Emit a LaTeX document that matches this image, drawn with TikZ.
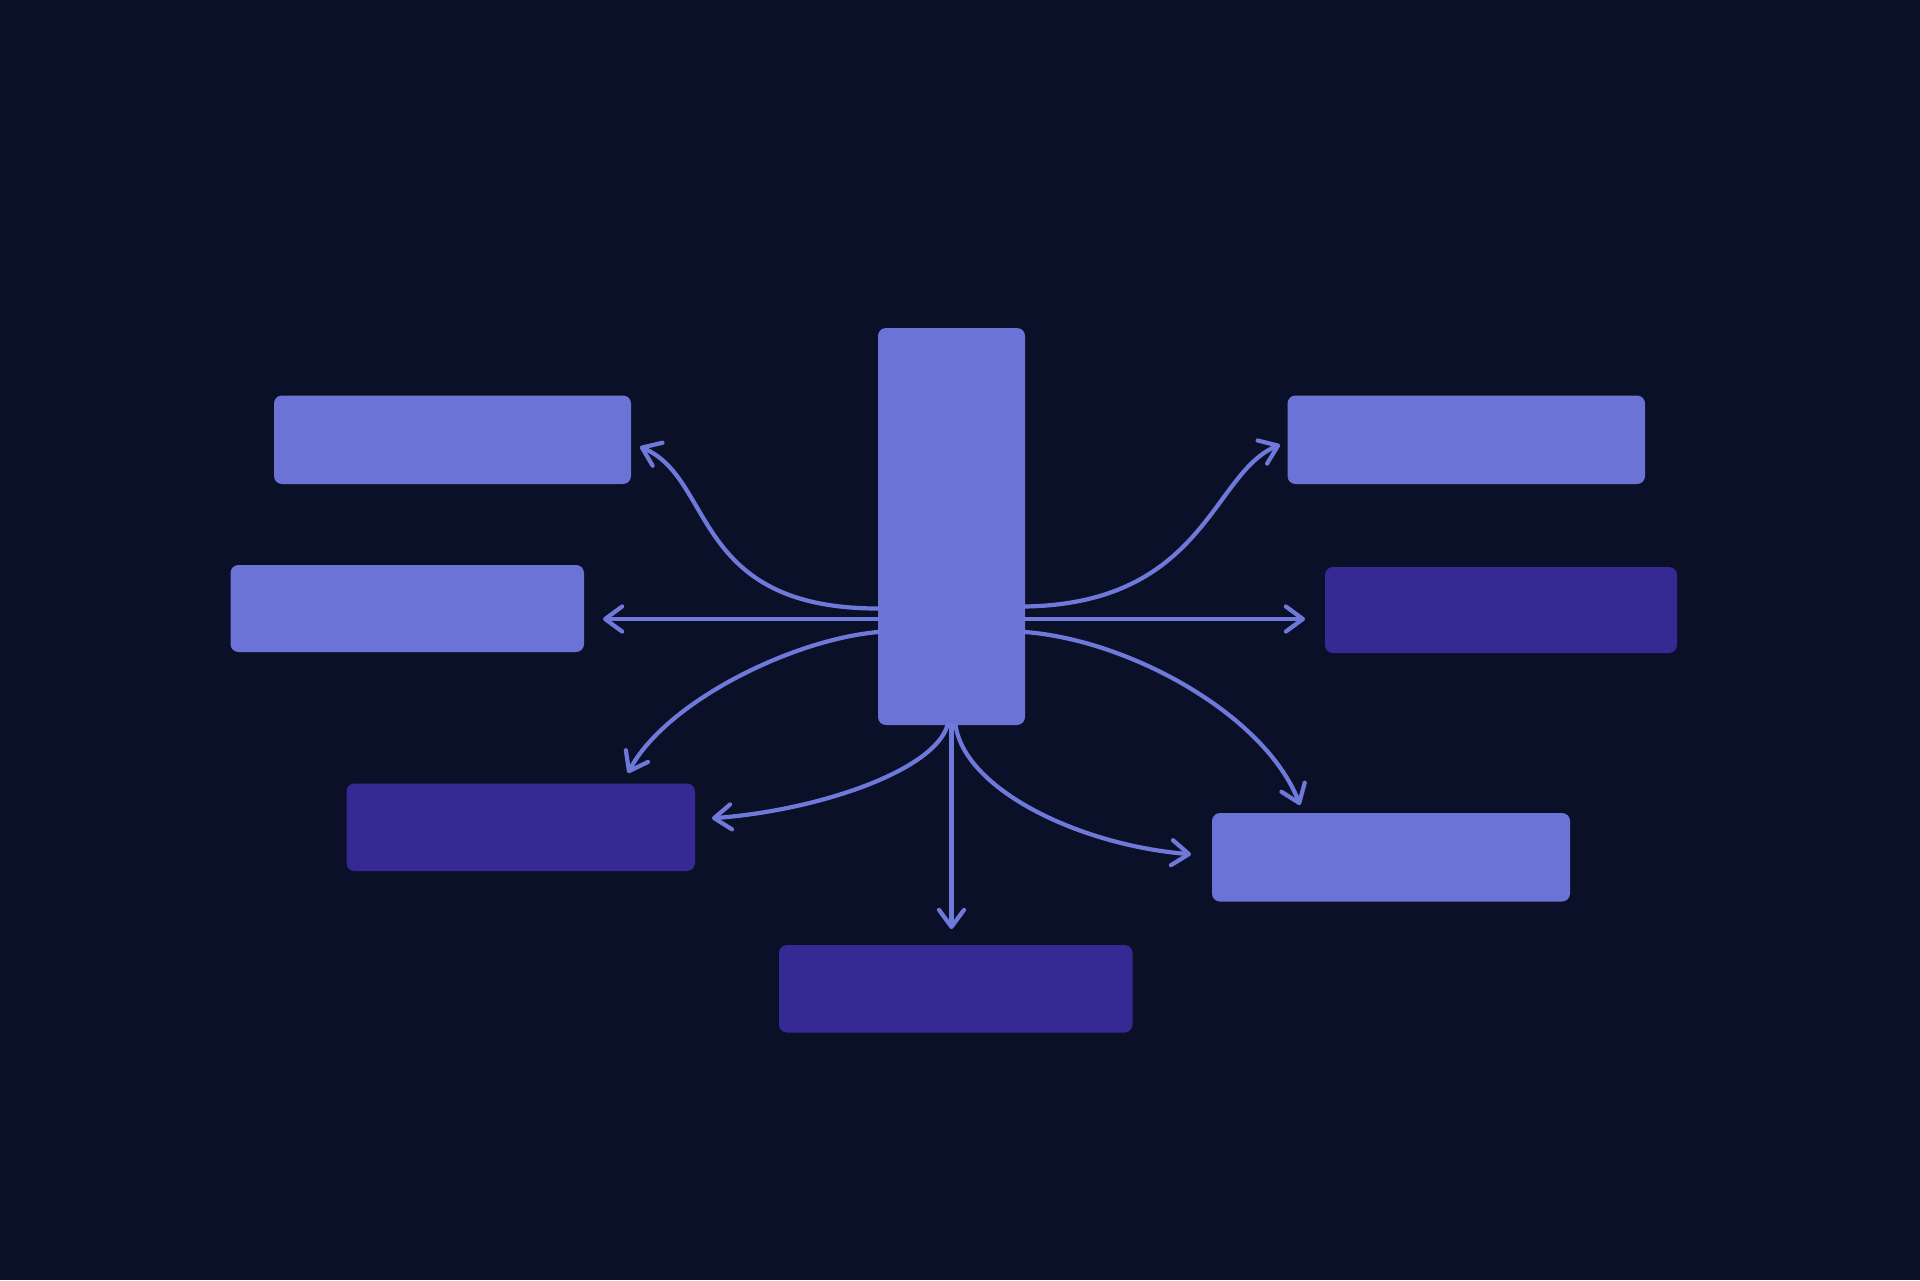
\documentclass[tikz,border=0pt]{standalone}
\usetikzlibrary{arrows.meta,calc}
\definecolor{bgc}{HTML}{0B1029}
\definecolor{boxlight}{HTML}{6B74D6}
\definecolor{boxdark}{HTML}{352A94}
\definecolor{arrowc}{HTML}{6F79D9}
\begin{document}
\begin{tikzpicture}[x=0.1mm,y=-0.1mm,
  box/.style={rectangle,rounded corners=0.8mm,inner sep=0pt,outer sep=0pt},
  lightbox/.style={box,fill=boxlight},
  darkbox/.style={box,fill=boxdark},
  conn/.style={draw=arrowc,line width=0.42mm,line cap=round,
    -{Straight Barb[length=1.7mm,width=2.5mm,round]}}]
\fill[bgc] (0,0) rectangle (1920,1280);
\useasboundingbox (0,0) rectangle (1920,1280);
% boxes
\node[lightbox,minimum width=14.7mm,minimum height=39.7mm] (C) at (951.5,526.5) {};
\node[lightbox,minimum width=35.7mm,minimum height=8.85mm] (L1) at (452.5,439.75) {};
\node[lightbox,minimum width=35.35mm,minimum height=8.7mm] (L2) at (407.25,608.5) {};
\node[darkbox,minimum width=34.85mm,minimum height=8.75mm] (L3) at (520.75,827.25) {};
\node[darkbox,minimum width=35.35mm,minimum height=8.75mm] (B) at (955.75,988.75) {};
\node[lightbox,minimum width=35.75mm,minimum height=8.85mm] (R1) at (1466.25,439.75) {};
\node[darkbox,minimum width=35.2mm,minimum height=8.6mm] (R2) at (1501,610) {};
\node[lightbox,minimum width=35.8mm,minimum height=8.85mm] (R3) at (1391,857.25) {};
% start points on the central box
\coordinate (s1) at ($(C.west)+(0,82)$);
\coordinate (s2) at ($(C.west)+(0,92.5)$);
\coordinate (s3) at ($(C.west)+(0,105.5)$);
\coordinate (s4) at ($(C.east)+(0,80)$);
\coordinate (s5) at ($(C.east)+(0,92.5)$);
\coordinate (s6) at ($(C.east)+(0,105.5)$);
\coordinate (b1) at ($(C.south)+(-4,0)$);
\coordinate (b2) at (C.south);
\coordinate (b3) at ($(C.south)+(4,0)$);
% end points near the target boxes
\coordinate (e1) at ($(L1.east)+(9,7)$);
\coordinate (e3) at ($(L3.north east)+(-67,-10.5)$);
\coordinate (e4) at ($(R1.west)+(-7.5,5)$);
\coordinate (e6) at ($(R3.north west)+(88,-8)$);
\coordinate (e7) at ($(L3.east)+(17,-9)$);
\coordinate (e9) at ($(R3.west)+(-21,-3)$);
% connectors
\draw[conn] (s1) .. controls +(-187,0) and +(75,32) .. (e1);
\draw[conn,shorten >=1.9mm] (s2) -- (s2 -| L2.east);
\draw[conn] (s3) .. controls +(-88,8) and +(37,-70) .. (e3);
\draw[conn] (s4) .. controls +(180,-3) and +(-68,28) .. (e4);
\draw[conn,shorten >=2mm] (s5) -- (s5 -| R2.west);
\draw[conn] (s6) .. controls +(105,8) and +(-35,-90) .. (e6);
\draw[conn] (b1) .. controls +(-12.5,45) and +(108,-8) .. (e7);
\draw[conn,shorten >=1.6mm] (b2) -- (b2 |- B.north);
\draw[conn] (b3) .. controls +(9.5,65) and +(-111,-9) .. (e9);
\end{tikzpicture}
\end{document}
